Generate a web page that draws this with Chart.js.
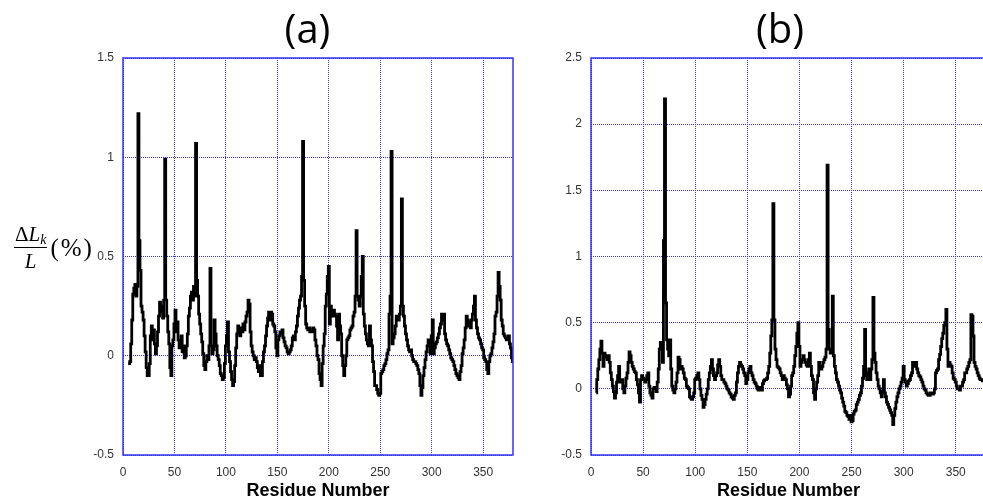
<!DOCTYPE html>
<html>
<head>
<meta charset="utf-8">
<script src="https://cdn.jsdelivr.net/npm/chart.js@4.4.1/dist/chart.umd.min.js"></script>
<style>
  html,body{margin:0;padding:0;background:#fff;}
  body{width:983px;height:504px;overflow:hidden;position:relative;}
  #wa{position:absolute;left:0;top:0;width:615px;height:504px;}
  #wb{position:absolute;left:520px;top:0;width:520px;height:504px;}
  #ylab{position:absolute;left:14px;top:224px;font-family:'Liberation Serif',serif;color:#000;display:flex;align-items:center;z-index:5;}
  .frac{display:inline-flex;flex-direction:column;align-items:center;}
  .num{font-size:21px;line-height:21px;font-style:italic;padding:0 1px 2px 1px;}
  .num .up{font-style:normal;}
  .num sub{font-size:14px;vertical-align:-3px;line-height:0;}
  .den{font-size:21px;line-height:21px;font-style:italic;border-top:1.3px solid #000;align-self:stretch;text-align:center;padding-top:3px;}
  .pct{font-size:25px;margin-left:3px;letter-spacing:2px;}
</style>
</head>
<body>
<div id="wa"><canvas id="ca"></canvas></div>
<div id="wb"><canvas id="cb"></canvas></div>
<div id="ylab"><div class="frac"><div class="num"><span class="up">Δ</span>L<sub>k</sub></div><div class="den">L</div></div><span class="pct">(%)</span></div>
<script>
// ---- data ----
const firstResidue = 5;   // first residue with a value
const xTickStep = 50;
const residueMax = 379;

const titleA = '(a)';
const titleB = '(b)';
const xAxisTitle = 'Residue Number';

const yRangeA = [-0.5, 1.5];
const yRangeB = [-0.5, 2.5];
const yTickStep = 0.5;

// panel (a): residues 5..379
const valuesA = [
 -0.04,-0.04,-0.03,0.06,0.18,0.31,0.34,0.36,0.30,0.35,
 1.22,0.58,0.43,0.25,0.22,0.18,0.10,0.02,-0.06,-0.10,
 -0.10,-0.04,0.10,0.15,0.08,0.13,0.06,0.01,0.05,0.12,
 0.20,0.27,0.22,0.25,0.19,0.28,0.99,0.28,0.20,0.12,
 0.06,-0.06,-0.10,0.05,0.08,0.16,0.23,0.12,0.17,0.08,
 0.04,0.06,0.10,0.02,0.05,-0.01,0.00,0.05,0.11,0.20,
 0.24,0.30,0.32,0.28,0.35,0.30,1.07,0.38,0.30,0.21,
 0.16,0.11,0.07,0.01,-0.05,-0.07,-0.03,0.00,-0.02,0.05,
 0.44,0.05,0.01,0.03,0.18,0.11,0.05,0.00,-0.02,-0.05,
 -0.09,-0.10,-0.12,-0.11,-0.04,0.05,0.10,0.17,0.02,-0.03,
 -0.08,-0.12,-0.15,-0.13,-0.05,0.04,0.11,0.15,0.13,0.10,
 0.14,0.12,0.16,0.13,0.17,0.20,0.22,0.28,0.26,0.12,
 0.05,0.02,0.00,-0.02,-0.01,-0.03,-0.06,-0.08,-0.05,-0.10,
 -0.10,-0.03,0.02,0.05,0.10,0.15,0.19,0.22,0.18,0.22,
 0.21,0.16,0.15,0.12,0.04,0.00,0.08,0.10,0.12,0.11,
 0.13,0.09,0.07,0.05,0.04,0.02,0.01,0.02,0.03,0.05,
 0.09,0.10,0.08,0.12,0.15,0.20,0.24,0.28,0.30,0.40,
 1.08,0.38,0.25,0.16,0.14,0.13,0.14,0.12,0.13,0.12,
 0.14,0.13,0.08,0.05,0.00,-0.02,-0.09,-0.12,-0.15,-0.04,
 0.05,0.11,0.25,0.31,0.40,0.45,0.16,0.25,0.20,0.20,
 0.23,0.21,0.20,0.15,0.08,0.21,0.15,0.11,0.00,-0.05,
 -0.10,-0.05,0.00,0.08,0.09,0.10,0.13,0.14,0.15,0.20,
 0.22,0.30,0.63,0.30,0.28,0.25,0.30,0.40,0.50,0.21,
 0.15,0.11,0.08,0.06,0.05,0.15,0.08,0.05,-0.03,-0.08,
 -0.15,-0.15,-0.17,-0.19,-0.20,-0.19,-0.09,-0.08,-0.07,-0.05,
 -0.04,-0.02,0.01,0.03,0.21,0.30,1.03,0.06,0.09,0.11,
 0.15,0.20,0.19,0.18,0.21,0.25,0.79,0.25,0.20,0.15,
 0.11,0.08,0.05,0.03,0.02,0.03,0.00,-0.02,-0.03,-0.03,
 -0.04,-0.05,-0.07,-0.09,-0.15,-0.20,-0.16,-0.10,-0.06,-0.02,
 0.02,0.05,0.08,0.05,0.01,0.10,0.18,0.01,0.04,0.06,
 0.07,0.09,0.11,0.14,0.16,0.21,0.18,0.21,0.11,0.08,
 0.06,0.05,0.03,0.01,-0.01,-0.02,-0.03,-0.05,-0.07,-0.09,
 -0.10,-0.11,-0.12,-0.08,-0.05,0.01,0.04,0.08,0.14,0.20,
 0.18,0.15,0.17,0.14,0.18,0.21,0.25,0.30,0.18,0.14,
 0.11,0.09,0.08,0.06,0.04,0.03,-0.01,-0.02,-0.03,-0.07,
 -0.09,-0.03,0.00,0.01,0.04,0.07,0.11,0.20,0.22,0.30,
 0.42,0.35,0.28,0.18,0.15,0.11,0.10,0.09,0.08,0.09,
 0.10,0.06,0.04,-0.01,-0.03
];

// panel (b): residues 5..379
const valuesB = [
 -0.03,0.07,0.15,0.22,0.30,0.36,0.27,0.17,0.27,0.25,
 0.24,0.22,0.25,0.20,0.12,0.07,0.02,-0.02,-0.07,-0.03,
 0.05,0.10,0.17,0.05,0.06,0.07,0.00,-0.03,0.02,0.08,
 0.12,0.20,0.28,0.25,0.20,0.17,0.15,0.13,0.12,0.07,
 0.03,-0.03,-0.10,0.07,0.10,0.08,0.07,0.05,0.07,0.10,
 0.12,0.02,-0.03,-0.05,-0.07,0.00,0.01,0.00,-0.02,0.05,
 0.15,0.30,0.35,0.33,0.20,1.12,2.19,0.65,0.37,0.30,
 0.25,0.37,0.15,0.02,-0.01,-0.03,0.00,0.05,0.12,0.24,
 0.22,0.15,0.17,0.15,0.12,0.08,0.07,0.02,0.01,0.00,
 -0.06,-0.07,-0.08,-0.06,-0.03,0.07,0.08,0.10,0.12,0.07,
 0.00,-0.05,-0.08,-0.14,-0.12,-0.08,-0.04,0.00,0.07,0.12,
 0.17,0.22,0.15,0.10,0.07,0.10,0.12,0.18,0.22,0.17,
 0.10,0.07,0.07,0.05,0.04,0.02,0.00,-0.01,-0.03,-0.04,
 -0.06,-0.07,-0.08,-0.05,-0.03,0.05,0.12,0.17,0.20,0.18,
 0.17,0.15,0.12,0.10,0.04,0.07,0.12,0.15,0.17,0.12,
 0.10,0.07,0.05,0.04,0.02,0.00,-0.01,0.01,0.00,-0.01,
 0.04,0.06,0.07,0.07,0.08,0.12,0.17,0.27,0.40,0.52,
 1.40,0.52,0.30,0.22,0.17,0.16,0.15,0.12,0.10,0.07,
 0.10,0.08,0.07,0.03,0.00,-0.06,-0.04,0.02,0.10,0.12,
 0.17,0.25,0.32,0.42,0.50,0.32,0.17,0.20,0.22,0.25,
 0.22,0.20,0.18,0.17,0.22,0.27,0.17,0.10,0.07,-0.03,
 -0.08,0.00,0.05,0.10,0.20,0.17,0.15,0.17,0.20,0.22,
 0.24,0.30,1.69,0.45,0.30,0.27,0.30,0.70,0.25,0.17,
 0.12,0.07,0.05,0.02,-0.01,-0.03,-0.07,-0.10,-0.13,-0.17,
 -0.18,-0.20,-0.21,-0.23,-0.20,-0.25,-0.24,-0.19,-0.17,-0.16,
 -0.12,-0.10,-0.08,-0.05,-0.03,0.02,0.08,0.17,0.45,0.10,
 0.07,0.12,0.15,0.07,0.15,0.22,0.69,0.27,0.20,0.12,
 0.07,0.02,0.00,-0.03,-0.06,-0.02,0.07,-0.03,-0.06,-0.10,
 -0.12,-0.14,-0.16,-0.18,-0.20,-0.27,-0.20,-0.15,-0.10,-0.06,
 -0.03,0.00,0.02,0.05,0.08,0.17,0.07,0.05,0.02,0.04,
 0.06,0.07,0.10,0.12,0.20,0.17,0.19,0.20,0.15,0.12,
 0.10,0.09,0.07,0.05,0.02,0.00,-0.01,-0.03,-0.04,-0.05,
 -0.05,-0.03,-0.04,-0.04,-0.03,0.00,0.12,0.14,0.15,0.22,
 0.26,0.32,0.38,0.42,0.48,0.50,0.60,0.30,0.17,0.20,
 0.18,0.17,0.12,0.08,0.07,0.05,0.02,0.00,0.00,-0.01,
 0.02,0.02,0.05,0.07,0.12,0.12,0.15,0.17,0.20,0.22,
 0.56,0.55,0.40,0.20,0.17,0.15,0.12,0.10,0.08,0.07,
 0.07,0.06,0.06,0.05,0.05
];

// ---- chart building ----
function toPoints(values){
  return values.map((v,i)=>({x:firstResidue+i, y:v}));
}

const boxPlugin = {
  id:'box',
  afterDatasetsDraw(chart, args, opts){
    const {ctx, chartArea:a} = chart;
    ctx.save();
    ctx.strokeStyle = opts.color;
    ctx.lineWidth = opts.width;
    ctx.strokeRect(a.left, a.top, a.right-a.left, a.bottom-a.top);
    ctx.restore();
  }
};

const tickFont = {family:"'Liberation Sans', Arial, sans-serif", size:12};
const gridColor = '#3030ff';

function makeChart(canvasId, values, title, yRange, yAxisWidth, rightWidth){
  return new Chart(document.getElementById(canvasId), {
    type:'line',
    data:{datasets:[{
      data: toPoints(values),
      borderColor:'#000',
      borderWidth:2.8,
      pointRadius:0,
      stepped:'middle',
      fill:false
    }]},
    options:{
      responsive:true,
      maintainAspectRatio:false,
      animation:false,
      devicePixelRatio:1,
      layout:{padding:0},
      plugins:{
        legend:{display:false},
        tooltip:{enabled:false},
        title:{display:true,text:title,color:'#000',
          font:{family:"'Open Sans', sans-serif",size:40,weight:'normal',lineHeight:1.2},
          padding:{top:8,bottom:2}},
        box:{color:'#3333ff',width:1.5}
      },
      scales:{
        x:{
          type:'linear', min:0, max:residueMax,
          ticks:{stepSize:xTickStep, includeBounds:false, padding:10, color:'#333', font:tickFont, maxRotation:0, autoSkip:false},
          grid:{color:gridColor, lineWidth:1, drawTicks:false},
          border:{display:false, dash:[1,1]},
          title:{display:true, text:xAxisTitle, color:'#000',
            font:{family:"'Liberation Sans', Arial, sans-serif", size:18, weight:'bold', lineHeight:1.2},
            padding:{top:0,bottom:2}},
          afterFit(s){ s.height = 49; }
        },
        y:{
          type:'linear', min:yRange[0], max:yRange[1],
          ticks:{stepSize:yTickStep, padding:9, color:'#333', font:tickFont,
                 callback:(v)=>String(Number(v.toFixed(2)))},
          grid:{color:gridColor, lineWidth:1, drawTicks:false},
          border:{display:false, dash:[1,1]},
          afterFit(s){ s.width = yAxisWidth; }
        },
        yr:{
          type:'linear', position:'right', min:yRange[0], max:yRange[1],
          ticks:{display:false}, grid:{display:false}, border:{display:false},
          afterFit(s){ s.width = rightWidth; }
        }
      }
    },
    plugins:[boxPlugin]
  });
}

makeChart('ca', valuesA, titleA, yRangeA, 123, 102);
makeChart('cb', valuesB, titleB, yRangeB, 71, 54);
</script>
</body>
</html>
